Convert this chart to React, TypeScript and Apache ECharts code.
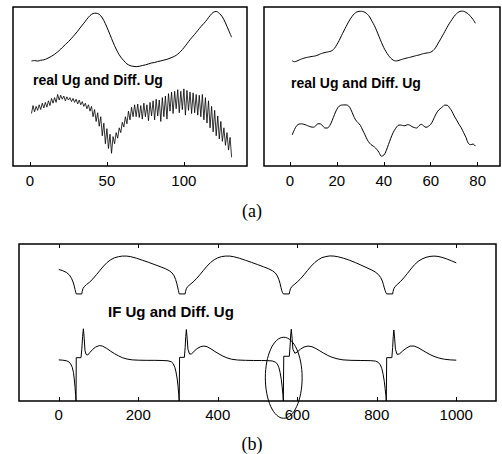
import React, { useEffect, useRef } from "react";
import * as echarts from "echarts";

// ---------- Panel 1 (top-left): real Ug (every 2 samples, x = 1,3,...,131) ----------
const realUgA: number[] = [
  66.0, 66.3, 66.0, 66.5, 66.8, 67.5, 68.5, 69.6, 71.0, 72.6,
  74.5, 76.4, 78.2, 80.3, 82.5, 84.8, 87.4, 89.8, 92.3, 94.6,
  95.9, 96.1, 95.4, 93.2, 89.5, 85.0, 80.2, 75.6, 71.6, 68.5,
  66.2, 64.2, 63.2, 62.7, 62.5, 62.7, 63.2, 63.6, 64.2, 64.8,
  65.1, 65.7, 66.1, 66.6, 67.1, 67.8, 68.6, 69.6, 71.2, 73.2,
  75.6, 78.2, 80.6, 82.8, 85.2, 87.6, 89.7, 92.0, 94.6, 96.6,
  97.2, 96.0, 93.8, 90.0, 85.5, 81.0,
];
// Diff. Ug (every sample, x = 1..131)
const diffUgA: number[] = [
  33.0, 38.0, 34.0, 37.5, 35.0, 38.5, 35.5, 39.5, 36.5, 40.0,
  37.0, 41.0, 38.0, 42.5, 39.5, 43.0, 40.0, 45.0, 41.5, 44.5,
  42.0, 44.0, 41.0, 43.5, 41.5, 43.0, 40.5, 42.5, 40.0, 42.0,
  39.0, 41.5, 38.5, 40.5, 37.5, 39.5, 36.0, 38.5, 34.5, 37.5,
  31.0, 35.5, 28.0, 33.5, 25.0, 31.0, 19.0, 27.0, 14.0, 23.5,
  11.0, 20.0, 8.0, 18.5, 14.0, 21.0, 17.5, 24.0, 21.0, 27.5,
  24.5, 31.0, 26.5, 34.5, 29.0, 37.0, 31.0, 38.5, 31.0, 39.0,
  30.5, 38.0, 29.5, 39.5, 31.0, 38.5, 28.5, 40.0, 31.5, 41.0,
  29.0, 42.0, 31.5, 41.5, 28.0, 43.0, 31.0, 44.0, 29.5, 45.5,
  34.5, 46.5, 33.0, 47.0, 36.0, 48.0, 33.5, 47.0, 35.5, 48.5,
  32.0, 47.5, 35.0, 46.5, 33.0, 46.0, 33.5, 45.0, 32.0, 44.5,
  31.0, 45.0, 29.0, 43.0, 27.0, 41.0, 24.0, 37.5, 21.5, 35.0,
  19.0, 31.5, 17.0, 28.0, 15.5, 24.0, 13.0, 21.0, 10.0, 18.0,
  5.5,
];

// ---------- Panel 2 (top-right): x = 1..79 ----------
const realUgB: number[] = [
  66.2, 65.6, 66.0, 66.7, 67.3, 67.8, 68.2, 68.5, 68.8, 69.0,
  69.3, 69.8, 70.5, 71.0, 71.4, 71.7, 72.0, 72.6, 74.0, 76.3,
  78.9, 82.0, 84.9, 87.8, 90.6, 93.0, 95.0, 96.4, 97.1, 97.3,
  97.2, 96.6, 95.5, 93.7, 91.0, 88.3, 85.0, 81.4, 77.8, 74.5,
  71.8, 69.6, 67.8, 66.6, 66.1, 66.2, 66.7, 67.2, 67.6, 68.0,
  68.3, 68.7, 69.1, 69.5, 69.8, 70.3, 70.7, 71.0, 71.2, 71.6,
  72.6, 74.3, 76.8, 79.3, 81.9, 84.6, 87.3, 89.8, 92.0, 94.2,
  95.8, 96.9, 97.4, 97.3, 96.6, 95.6, 94.0, 92.2, 89.8,
];
const diffUgB: number[] = [
  19.5, 23.0, 25.5, 26.4, 26.5, 26.2, 25.7, 25.1, 24.6, 24.4,
  25.2, 26.6, 26.5, 25.2, 23.9, 23.9, 25.5, 28.5, 32.3, 35.6,
  37.6, 38.3, 38.4, 38.4, 37.8, 35.5, 32.0, 29.0, 27.3, 25.6,
  22.6, 19.6, 16.5, 14.3, 13.0, 12.0, 10.5, 8.5, 6.2, 6.8,
  9.5, 13.5, 17.5, 21.0, 23.5, 25.4, 25.8, 25.5, 25.3, 26.0,
  25.7, 24.8, 24.2, 23.9, 25.3, 26.2, 25.2, 24.3, 25.0, 26.2,
  28.8, 32.0, 34.5, 36.0, 37.2, 38.3, 38.2, 36.6, 34.5, 31.5,
  29.0, 26.3, 24.0, 21.0, 18.0, 14.3, 13.4, 13.8, 12.5,
];

// ---------- Panel 3 (bottom): IF Ug and Diff. Ug, [x, value] ----------
const ifUg: [number, number][] = [
  [0, 83.8], [10, 83.0], [20, 81.8], [27, 80.2], [32, 78.2], [36, 75.8], [39, 73.2], [41, 71.0], [43, 69.0], [44, 68.2],
  [58, 68.2], [59, 69.8], [61, 71.6], [64, 72.8], [70, 74.2], [78, 75.8], [86, 77.8], [95, 80.5], [104, 83.3], [113, 86.0],
  [122, 88.3], [131, 90.0], [140, 91.2], [150, 91.9], [160, 92.3], [170, 92.3], [180, 92.0], [195, 91.0], [210, 89.7], [225, 88.4],
  [240, 87.0], [255, 85.6], [268, 84.3], [278, 83.0], [285, 81.6], [290, 79.8], [294, 77.4], [297, 74.8], [299, 72.6], [301, 70.4],
  [302, 69.2], [303, 68.2], [318, 68.2],
  [319, 69.8], [321, 71.5], [324, 72.8], [330, 74.1], [338, 75.8], [346, 77.8], [355, 80.4], [364, 83.2], [373, 85.9], [382, 88.2],
  [391, 90.0], [400, 91.2], [410, 92.0], [420, 92.3], [430, 92.3], [440, 91.9], [455, 90.9], [470, 89.6], [485, 88.3], [500, 86.9],
  [515, 85.5], [528, 84.2], [538, 82.9], [545, 81.5], [550, 79.6], [554, 77.2], [557, 74.6], [559, 72.4], [561, 70.3], [563, 69.0],
  [565, 68.2], [580, 68.2],
  [581, 69.8], [583, 71.5], [586, 72.8], [592, 74.1], [600, 75.8], [608, 77.8], [617, 80.4], [626, 83.2], [635, 85.9], [644, 88.2],
  [653, 90.0], [662, 91.3], [672, 92.0], [682, 92.4], [692, 92.3], [702, 91.9], [717, 90.9], [732, 89.6], [747, 88.1], [760, 86.6],
  [773, 85.1], [786, 83.6], [796, 82.2], [804, 80.6], [810, 78.6], [814, 76.4], [817, 74.0], [819, 72.0], [821, 70.4], [823, 69.0],
  [825, 68.2], [840, 68.2],
  [841, 69.8], [843, 71.5], [846, 72.9], [852, 74.3], [860, 76.2], [868, 78.4], [877, 81.2], [886, 84.1], [895, 86.8], [904, 88.9],
  [914, 90.5], [924, 91.5], [934, 92.1], [944, 92.3], [954, 92.1], [964, 91.5], [976, 90.5], [988, 89.3], [1000, 88.0],
];
const diffIfUg: [number, number][] = [
  [0, 26.2], [10, 26.0], [20, 25.6], [26, 24.8], [30, 23.6], [34, 21.5], [37, 18.2], [39, 14.0], [41, 8.5], [42.5, 3.5],
  [43.5, 0], [44, 0], [44, 27.6], [56, 27.6], [58, 33], [60, 41], [62, 46], [64, 40], [66, 32], [69, 29.6],
  [73, 29.3], [78, 30.8], [85, 32.8], [93, 34.4], [102, 35.3], [110, 35.0], [120, 33.6], [130, 31.8], [140, 30.2], [150, 28.8],
  [160, 27.6], [172, 26.7], [185, 26.2], [200, 26.0], [220, 25.9], [240, 25.9], [260, 25.8], [275, 25.6], [283, 25.0], [288, 23.8],
  [292, 21.5], [295, 18.5], [298, 14.0], [300, 9.5], [302, 4.0], [303, 0], [304, 0], [304, 27.8], [316, 27.8], [318, 34],
  [319.5, 41], [321, 45.5], [323, 40], [325, 33], [329, 29.9], [334, 30.0], [340, 31.5], [348, 33.4], [357, 34.6], [365, 35.0],
  [373, 34.6], [383, 33.2], [393, 31.5], [403, 30.0], [413, 28.6], [423, 27.5], [435, 26.6], [450, 26.1], [470, 25.9], [490, 25.8],
  [510, 25.8], [525, 25.7], [537, 25.5], [545, 24.8], [550, 23.5], [554, 21.2], [557, 18.0], [560, 13.5], [562, 9.0], [564, 4.0],
  [565, 0], [566, 0], [566, 28.5], [580, 28.5], [582, 35], [583.5, 42], [585, 45.7], [587, 40], [589, 33], [594, 30.4],
  [600, 31.2], [608, 33.0], [617, 34.4], [627, 35.0], [637, 34.6], [647, 33.4], [657, 31.9], [667, 30.4], [677, 29.0], [687, 27.9],
  [700, 26.9], [715, 26.2], [735, 25.9], [760, 25.8], [785, 25.7], [797, 25.4], [804, 24.6], [809, 23.0], [813, 20.5], [816, 17.0],
  [819, 12.5], [821, 8.0], [823, 3.5], [824, 0], [825, 0], [825, 27.6], [838, 27.6], [840, 34], [841.5, 41], [843, 45.2],
  [845, 40], [847, 33], [851, 29.7], [857, 30.0], [865, 31.8], [874, 33.6], [884, 35.0], [894, 35.0], [904, 34.0], [914, 32.5],
  [924, 31.0], [934, 29.6], [944, 28.4], [956, 27.4], [970, 26.6], [985, 26.2], [1000, 26.0],
];

// ellipse marking the region of interest: [center x, center value, radius x, radius value]
const ellipseMark: number[][] = [[566, 14.8, 46.3, 25.8]];

// tick labels
const ticksA = [0, 50, 100];
const ticksB = [0, 20, 40, 60, 80];
const ticksC = [0, 200, 400, 600, 800, 1000];

const panelTextA = "real Ug and Diff. Ug";
const panelTextB = "real Ug and Diff. Ug";
const panelTextC = "IF Ug and Diff. Ug";

const SANS = '"Liberation Sans", Arial, Helvetica, sans-serif';
const SERIF = '"Liberation Serif", "Times New Roman", serif';

function xAxisFor(grid: number, min: number, max: number, ticks: number[], margin: number, position = "bottom", labels = true) {
  return {
    type: "value",
    gridIndex: grid,
    position,
    min,
    max,
    axisLine: { show: false },
    splitLine: { show: false },
    axisTick: { show: true, inside: true, length: 4, customValues: ticks, lineStyle: { color: "#000", width: 1 } },
    axisLabel: {
      show: labels,
      customValues: ticks,
      formatter: (v: number) => String(v),
      color: "#000",
      fontSize: 15,
      fontFamily: SANS,
      margin,
    },
  };
}

function yAxisFor(grid: number) {
  return { type: "value", gridIndex: grid, min: 0, max: 100, show: false };
}

function lineSeries(xi: number, data: number[][], smooth: number | boolean, width = 1) {
  return {
    type: "line",
    xAxisIndex: xi,
    yAxisIndex: xi > 2 ? 2 : xi,
    data,
    symbol: "none",
    smooth,
    lineStyle: { color: "#000", width },
    emphasis: { disabled: true },
  };
}

export default function App() {
  const ref = useRef<HTMLDivElement>(null);
  useEffect(() => {
    if (!ref.current) return;
    const chart = echarts.init(ref.current, undefined, { renderer: "svg" });
    const frame = { show: true, borderColor: "#000", borderWidth: 1.5, backgroundColor: "transparent" };
    chart.setOption({
      animation: false,
      backgroundColor: "#fff",
      grid: [
        { left: 13, top: 7, width: 234, height: 159, ...frame },
        { left: 264, top: 7, width: 236, height: 159, ...frame },
        { left: 19, top: 244, width: 477, height: 157, ...frame },
      ],
      xAxis: [
        xAxisFor(0, -11, 141, ticksA, 7),
        xAxisFor(1, -11, 89.5, ticksB, 7),
        xAxisFor(2, -100, 1100, ticksC, 6),
        xAxisFor(2, -100, 1100, ticksC, 6, "top", false),
      ],
      yAxis: [yAxisFor(0), yAxisFor(1), yAxisFor(2)],
      series: [
        lineSeries(0, realUgA.map((v, i) => [1 + 2 * i, v]), 0.3),
        lineSeries(0, diffUgA.map((v, i) => [1 + i, v]), false, 0.8),
        lineSeries(1, realUgB.map((v, i) => [1 + i, v]), 0.4),
        lineSeries(1, diffUgB.map((v, i) => [1 + i, v]), 0.4),
        lineSeries(2, ifUg, false),
        lineSeries(2, diffIfUg, false),
        {
          type: "custom",
          xAxisIndex: 2,
          yAxisIndex: 2,
          clip: false,
          data: ellipseMark,
          renderItem: (_params: any, api: any) => {
            const c = api.coord([api.value(0), api.value(1)]);
            const s = api.size([api.value(2), api.value(3)]);
            return {
              type: "ellipse",
              shape: { cx: c[0], cy: c[1], rx: s[0], ry: s[1] },
              style: { fill: "none", stroke: "#000", lineWidth: 1 },
            };
          },
        },
      ],
      graphic: [
        { type: "text", x: 33, y: 80, style: { text: panelTextA, fill: "#000", fontSize: 14, fontWeight: "bold", fontFamily: SANS, align: "left", verticalAlign: "middle" } },
        { type: "text", x: 291, y: 83, style: { text: panelTextB, fill: "#000", fontSize: 14, fontWeight: "bold", fontFamily: SANS, align: "left", verticalAlign: "middle" } },
        { type: "text", x: 108, y: 311, style: { text: panelTextC, fill: "#000", fontSize: 15, fontWeight: "bold", fontFamily: SANS, align: "left", verticalAlign: "middle" } },
        { type: "text", x: 252, y: 211, style: { text: "(a)", fill: "#000", fontSize: 18, fontFamily: SERIF, align: "center", verticalAlign: "middle" } },
        { type: "text", x: 252, y: 444, style: { text: "(b)", fill: "#000", fontSize: 18, fontFamily: SERIF, align: "center", verticalAlign: "middle" } },
      ],
    });
    return () => chart.dispose();
  }, []);
  return <div ref={ref} style={{ position: "absolute", left: 0, top: 0, width: 502, height: 454 }} />;
}
